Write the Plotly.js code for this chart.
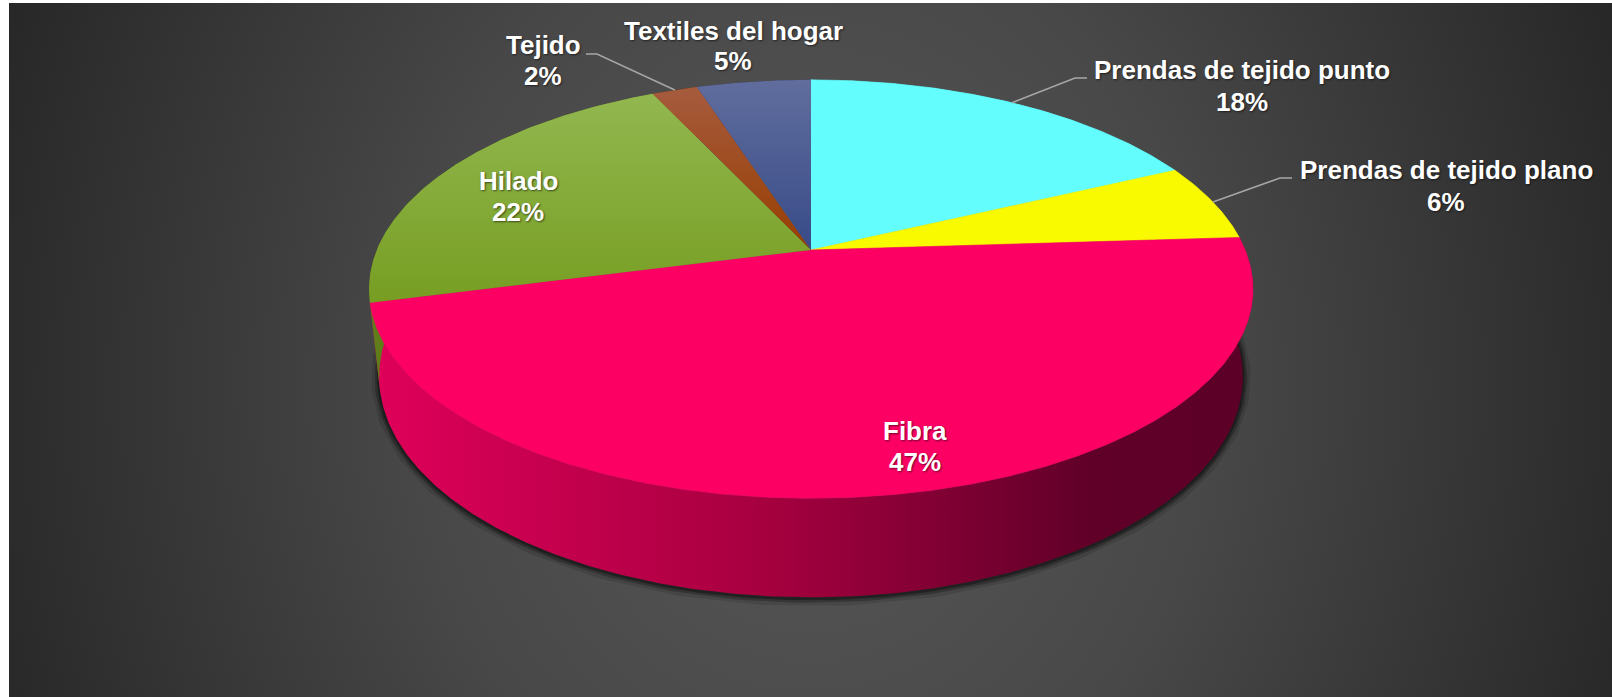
<!DOCTYPE html>
<html>
<head>
<meta charset="utf-8">
<script src="https://cdn.plot.ly/plotly-3.0.1.min.js"></script>
<style>
html,body{margin:0;padding:0;background:#ffffff;width:1612px;height:697px;overflow:hidden}
#bg{position:absolute;left:9px;top:3px;width:1603px;height:694px;
 background:radial-gradient(ellipse 55% 150% at 50% 55%, #585858 0%, #484848 45%, #262626 100%)}
#chart{position:absolute;left:0;top:0;width:1612px;height:697px}
</style>
</head>
<body>
<div id="bg"></div>
<div id="chart"></div>
<script>
// ---- data ----
const categories = ['Prendas de tejido punto', 'Prendas de tejido plano', 'Fibra', 'Hilado', 'Tejido', 'Textiles del hogar'];
const values = [18, 6, 47, 22, 2, 5];

// ---- styles ----
const faceStyle = [
  {color: '#64fdfd'},
  {color: '#f9f900'},
  {color: '#fc0064'},
  {grad: [[0, '#779e22'], [1, '#92b750']]},
  {grad: [[0, '#983e00'], [1, '#a65b3e']]},
  {grad: [[0, '#384b88'], [1, '#606d9d']]}
];
const sideStyle = [
  {color: '#3cc4c4'},
  {color: '#b2b200'},
  {grad: [[0, '#e0005a'], [0.45, '#a6003f'], [0.82, '#600028'], [1, '#5c0027']]},
  {color: '#5f7d18'},
  {color: '#7a3000'},
  {color: '#2c3c6c'}
];
// label placement (layout positions, pixels)
const labelX    = [1242, 1446, 915, 518, 543, 733];
const nameY     = [70, 170, 431, 181, 45, 31];
const pctY      = [102, 202, 462, 212, 76, 61];
const leaderElbow = [[1075, 78], [1280, 178], null, null, [597, 54], null];
const leaderEnd   = [[1087, 78], [1292, 178], null, null, [586, 54], null];

// ---- 3D projection of the pie ----
const CX = 811, CY = 250, S = 2058;
const SINP = 0.465, COSP = 0.885, D = 4.74, HT = 0.23;
function proj(t, lower) {
  const u = Math.sin(t), c = Math.cos(t);
  let v = c * SINP, w = D + c * COSP;
  if (lower) { v -= HT * COSP; w += HT * SINP; }
  return [CX + S * u / w, CY - S * v / w];
}
function rim(t1, t2, lower) {
  const steps = Math.max(2, Math.ceil((t2 - t1) / (Math.PI / 360)));
  const xs = [], ys = [];
  for (let i = 0; i <= steps; i++) {
    const p = proj(t1 + (t2 - t1) * i / steps, lower);
    xs.push(p[0]); ys.push(p[1]);
  }
  return [xs, ys];
}

const total = values.reduce((a, b) => a + b, 0);
const angles = [];
let cum = 0;
values.forEach(v => { const a1 = cum / total * 2 * Math.PI; cum += v; angles.push([a1, cum / total * 2 * Math.PI]); });

const traces = [];
// soft shadow under the front rim
[[16, 'rgba(0,0,0,0.12)'], [9, 'rgba(0,0,0,0.25)'], [4, 'rgba(0,0,0,0.35)']].forEach(s => {
  const r = rim(Math.PI * 0.45, Math.PI * 1.55, true);
  traces.push({x: r[0], y: r[1].map(y => y + 1), mode: 'lines', line: {color: s[1], width: s[0]}, hoverinfo: 'skip', type: 'scatter'});
});
// side walls
angles.forEach((a, i) => {
  const top = rim(a[0], a[1], false), bot = rim(a[0], a[1], true);
  const xs = top[0].concat(bot[0].slice().reverse());
  const ys = top[1].concat(bot[1].slice().reverse());
  const st = sideStyle[i];
  const tr = {x: xs, y: ys, mode: 'lines', fill: 'toself', line: {width: 0}, hoverinfo: 'skip', type: 'scatter'};
  if (st.grad) { tr.fillgradient = {type: 'horizontal', colorscale: st.grad, start: 370, stop: 1250}; }
  else { tr.fillcolor = st.color; }
  traces.push(tr);
});
// top faces
angles.forEach((a, i) => {
  const r = rim(a[0], a[1], false);
  const xs = [CX].concat(r[0], [CX]);
  const ys = [CY].concat(r[1], [CY]);
  const st = faceStyle[i];
  const tr = {x: xs, y: ys, mode: 'lines', fill: 'toself', hoverinfo: 'skip', type: 'scatter',
    name: categories[i]};
  if (st.grad) { tr.fillgradient = {type: 'vertical', colorscale: st.grad}; tr.line = {width: 0}; }
  else { tr.fillcolor = st.color; tr.line = {width: 0.6, color: st.color}; }
  traces.push(tr);
});

// labels
const font = {family: 'Liberation Sans, Arial, sans-serif', size: 26, color: '#ffffff', weight: 'bold',
  shadow: '1px 1px 2px rgba(0,0,0,0.55)'};
const annotations = [];
const shapes = [];
categories.forEach((c, i) => {
  const pct = Math.round(values[i] / total * 100) + '%';
  annotations.push({x: labelX[i], y: nameY[i], xref: 'x', yref: 'y', text: '<b>' + c + '</b>', showarrow: false, font: font, xanchor: 'center', yanchor: 'middle'});
  annotations.push({x: labelX[i], y: pctY[i], xref: 'x', yref: 'y', text: '<b>' + pct + '</b>', showarrow: false, font: font, xanchor: 'center', yanchor: 'middle'});
  if (leaderElbow[i]) {
    const mid = proj((angles[i][0] + angles[i][1]) / 2, false);
    shapes.push({type: 'path', xref: 'x', yref: 'y', layer: 'above',
      path: 'M ' + mid[0] + ' ' + mid[1] + ' L ' + leaderElbow[i][0] + ' ' + leaderElbow[i][1] + ' L ' + leaderEnd[i][0] + ' ' + leaderEnd[i][1],
      line: {color: '#a6a6a6', width: 1.5}});
  }
});

const layout = {
  width: 1612, height: 697,
  margin: {l: 0, r: 0, t: 0, b: 0, pad: 0},
  paper_bgcolor: 'rgba(0,0,0,0)', plot_bgcolor: 'rgba(0,0,0,0)',
  showlegend: false,
  xaxis: {range: [0, 1612], visible: false, fixedrange: true},
  yaxis: {range: [697, 0], visible: false, fixedrange: true},
  annotations: annotations,
  shapes: shapes
};
Plotly.newPlot('chart', traces, layout, {staticPlot: true, displayModeBar: false});
</script>
</body>
</html>
